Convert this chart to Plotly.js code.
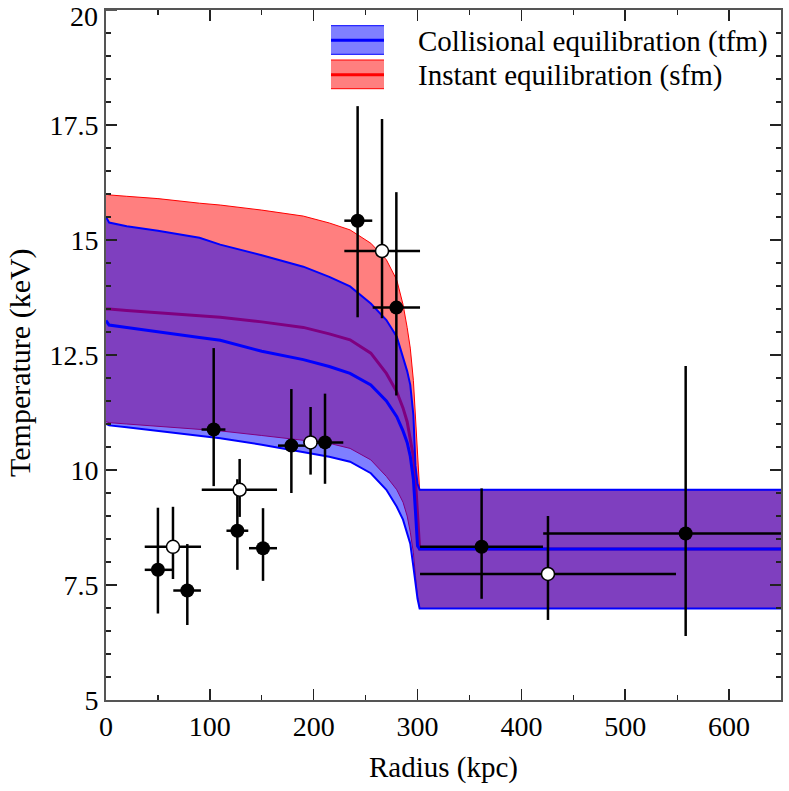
<!DOCTYPE html>
<html>
<head>
<meta charset="utf-8">
<script src="https://cdn.plot.ly/plotly-3.0.1.min.js"></script>
<style>html,body{margin:0;padding:0;background:#fff;}#chart{width:789px;height:791px;}</style>
</head>
<body>
<div id="chart"></div>
<script>
// Model profiles (radius in kpc, temperature in keV)
const modelR   = [0, 3, 20, 50, 90, 110, 150, 190, 215, 235, 255, 270, 280, 286, 290, 293, 296, 298, 300, 302, 650];
const sfmHigh  = [16.0, 15.98, 15.95, 15.9, 15.8, 15.76, 15.65, 15.52, 15.37, 15.22, 14.93, 14.57, 14.13, 13.6, 13.1, 12.65, 11.95, 11.2, 10.3, 9.57, 9.57];
const sfmMean  = [13.5, 13.5, 13.47, 13.42, 13.36, 13.32, 13.22, 13.1, 12.96, 12.83, 12.54, 12.1, 11.7, 11.35, 11.05, 10.7, 10.29, 9.8, 9.0, 8.28, 8.28];
const sfmLow   = [11.05, 11.03, 11.0, 10.95, 10.88, 10.85, 10.75, 10.65, 10.58, 10.47, 10.22, 9.86, 9.57, 9.3, 9.0, 8.65, 8.2, 7.7, 7.25, 6.99, 6.99];
const tfmHigh  = [15.5, 15.38, 15.3, 15.2, 15.05, 14.9, 14.67, 14.42, 14.2, 13.99, 13.62, 13.26, 12.9, 12.48, 12.15, 11.85, 11.2, 10.1, 9.7, 9.57, 9.57];
const tfmMean  = [13.25, 13.15, 13.1, 13.0, 12.88, 12.82, 12.58, 12.4, 12.25, 12.1, 11.85, 11.5, 11.16, 10.85, 10.6, 10.3, 9.8, 9.1, 8.35, 8.28, 8.28];
const tfmLow   = [11.0, 10.97, 10.93, 10.85, 10.75, 10.69, 10.55, 10.4, 10.29, 10.18, 9.93, 9.57, 9.2, 8.92, 8.65, 8.4, 7.9, 7.55, 7.2, 6.99, 6.99];

// Observed data, filled points
const fillR    = [50, 78.3, 103.7, 126.5, 151.2, 178.5, 210.9, 242.3, 279.6, 361.7, 558.2];
const fillRlo  = [37.3, 64.8, 92, 116, 137.7, 165.6, 193, 229.5, 256.8, 302.4, 421];
const fillRhi  = [63.8, 91.4, 115, 137, 164.7, 193, 228.5, 256.4, 302.4, 420.8, 650];
const fillT    = [7.83, 7.38, 10.88, 8.68, 8.3, 10.53, 10.6, 15.42, 13.53, 8.33, 8.62];
const fillTlo  = [6.88, 6.63, 9.65, 7.83, 7.59, 9.5, 9.7, 13.32, 11.62, 7.2, 6.39];
const fillThi  = [9.18, 8.39, 12.65, 9.8, 9.17, 11.76, 11.66, 17.91, 16.04, 9.6, 12.26];

// Observed data, open points
const openR    = [64.5, 128.7, 197, 265.8, 425.6];
const openRlo  = [37.3, 92.2, 190, 229.5, 302.4];
const openRhi  = [91.5, 164.7, 205, 302.4, 548.9];
const openT    = [8.33, 9.57, 10.6, 14.76, 7.74];
const openTlo  = [7.63, 8.98, 9.9, 13.3, 6.74];
const openThi  = [9.2, 10.24, 11.37, 17.63, 9.0];

const yTickVals = [5, 7.5, 10, 12.5, 15, 17.5, 20];
const yTickText = ["5", "7.5", "10", "12.5", "15", "17.5", "20"];
const xTitle = "Radius (kpc)";
const yTitle = "Temperature (keV)";
const legendNames = ["Collisional equilibration (tfm)", "Instant equilibration (sfm)"];

const sub = (a, b) => a.map((v, i) => v - b[i]);

const FONT = "Liberation Serif";
const RED_FILL = "rgba(255,0,0,0.5)";
const BLUE_FILL = "rgba(0,0,255,0.5)";

const traces = [
  {x: modelR, y: sfmLow, mode: "lines", line: {color: "#ff0000", width: 1}, hoverinfo: "skip"},
  {x: modelR, y: sfmHigh, mode: "lines", fill: "tonexty", fillcolor: RED_FILL, line: {color: "#ff0000", width: 1}, hoverinfo: "skip"},
  {x: modelR, y: sfmMean, mode: "lines", line: {color: "#ff0000", width: 3}, hoverinfo: "skip"},
  {x: modelR, y: tfmLow, mode: "lines", line: {color: "#0000ff", width: 2}, hoverinfo: "skip"},
  {x: modelR, y: tfmHigh, mode: "lines", fill: "tonexty", fillcolor: BLUE_FILL, line: {color: "#0000ff", width: 2}, hoverinfo: "skip"},
  {x: modelR, y: tfmMean, mode: "lines", line: {color: "#0000ff", width: 3}, hoverinfo: "skip"},
  {
    x: fillR, y: fillT, mode: "markers",
    marker: {color: "#000", size: 14, line: {width: 0}},
    error_x: {type: "data", symmetric: false, array: sub(fillRhi, fillR), arrayminus: sub(fillR, fillRlo), color: "#000", thickness: 2.5, width: 0},
    error_y: {type: "data", symmetric: false, array: sub(fillThi, fillT), arrayminus: sub(fillT, fillTlo), color: "#000", thickness: 2.5, width: 0}
  },
  {
    x: openR, y: openT, mode: "markers",
    marker: {color: "#fff", size: 13, line: {width: 1.5, color: "#000"}},
    error_x: {type: "data", symmetric: false, array: sub(openRhi, openR), arrayminus: sub(openR, openRlo), color: "#000", thickness: 2.5, width: 0},
    error_y: {type: "data", symmetric: false, array: sub(openThi, openT), arrayminus: sub(openT, openTlo), color: "#000", thickness: 2.5, width: 0}
  }
];

// legend drawn manually (paper coordinates)
const px2x = p => (p - 106) / 675;
const px2y = p => (700 - p) / 690;
const shapes = [];
const annotations = [];
const swatches = [
  {top: 25.7, bot: 54.3, mid: 40.3, fill: BLUE_FILL, line: "#0000ff", name: legendNames[0]},
  {top: 60, bot: 88.7, mid: 74.7, fill: RED_FILL, line: "#ff0000", name: legendNames[1]}
];
swatches.forEach(s => {
  shapes.push({type: "rect", xref: "paper", yref: "paper", x0: px2x(331), x1: px2x(384), y0: px2y(s.bot), y1: px2y(s.top), fillcolor: s.fill, line: {width: 0}});
  [s.top, s.bot].forEach(yy => shapes.push({type: "line", xref: "paper", yref: "paper", x0: px2x(331), x1: px2x(384), y0: px2y(yy), y1: px2y(yy), line: {color: s.line, width: 1}}));
  shapes.push({type: "line", xref: "paper", yref: "paper", x0: px2x(331), x1: px2x(384), y0: px2y(s.mid), y1: px2y(s.mid), line: {color: s.line, width: 3}});
  annotations.push({xref: "paper", yref: "paper", x: px2x(416), y: px2y(s.mid + 1), xanchor: "left", yanchor: "middle", text: s.name, showarrow: false, font: {family: FONT, size: 29, color: "#000"}});
});

// axis titles as annotations (serif)
annotations.push({xref: "paper", yref: "paper", x: px2x(443), y: px2y(767), xanchor: "center", yanchor: "middle", text: xTitle, showarrow: false, font: {family: FONT, size: 29, color: "#000"}});
annotations.push({xref: "paper", yref: "paper", x: px2x(20), y: px2y(363), xanchor: "center", yanchor: "middle", textangle: -90, text: yTitle, showarrow: false, font: {family: FONT, size: 30, color: "#000"}});
// top tick label kept inside the page
annotations.push({xref: "paper", yref: "y", x: px2x(100), y: yTickVals[yTickVals.length - 1], yshift: -6, xanchor: "right", yanchor: "middle", text: yTickText[yTickText.length - 1], showarrow: false, font: {family: FONT, size: 28, color: "#000"}});

const axisCommon = {
  showgrid: false, zeroline: false, showline: true, linecolor: "#555", linewidth: 2, mirror: "allticks",
  ticks: "inside", ticklen: 11, tickwidth: 1.5, tickcolor: "#222",
  tickfont: {family: FONT, size: 28, color: "#000"},
  minor: {ticks: "inside", ticklen: 5, tickwidth: 1.2, tickcolor: "#222"}
};

const layout = {
  width: 789, height: 791,
  margin: {l: 106, r: 8, t: 10, b: 91},
  paper_bgcolor: "#fff", plot_bgcolor: "#fff",
  font: {family: FONT, size: 28, color: "#000"},
  showlegend: false,
  xaxis: Object.assign({}, axisCommon, {
    range: [0, 650], dtick: 100, tick0: 0,
    minor: Object.assign({}, axisCommon.minor, {dtick: 50})
  }),
  yaxis: Object.assign({}, axisCommon, {
    range: [5, 20], tickmode: "array", tickvals: yTickVals.slice(0, -1), ticktext: yTickText.slice(0, -1),
    minor: Object.assign({}, axisCommon.minor, {dtick: 0.5, tick0: 5})
  }),
  shapes: shapes,
  annotations: annotations
};
// major tick mark at the top value (label drawn as annotation)
shapes.push({type: "line", xref: "paper", yref: "y", x0: 0, x1: 11 / 675, y0: yTickVals[yTickVals.length - 1], y1: yTickVals[yTickVals.length - 1], line: {color: "#222", width: 1.5}});

Plotly.newPlot("chart", traces, layout, {displayModeBar: false, staticPlot: true});
</script>
</body>
</html>
